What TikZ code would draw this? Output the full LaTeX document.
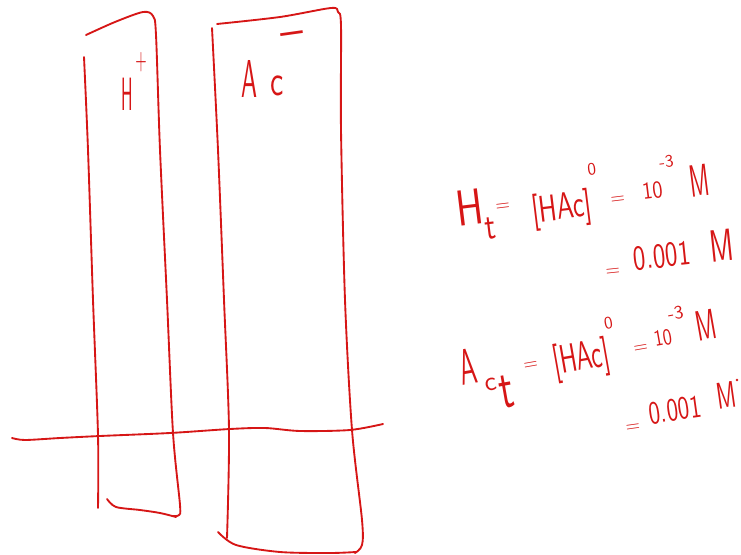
\documentclass[tikz,border=0pt]{standalone}
\usepackage{fontspec}
\newfontfamily\hand{lmsans10-regular}[Extension=.otf]
\begin{document}
\definecolor{ink}{RGB}{214,22,22}
\tikzset{
  stroke/.style={draw=ink, line width=1.4pt, line cap=round, line join=round},
  hw/.style={text=ink, inner sep=0pt, font=\hand},
}
\newcommand\fsz[1]{\fontsize{#1}{#1}\selectfont}
\newcommand\nx[2]{{\addfontfeatures{FakeStretch=#1}#2}}
\begin{tikzpicture}[x=0.75pt,y=-0.75pt]
\useasboundingbox (0,0) rectangle (741,555);
% left column (H+)
\draw[stroke] plot[smooth] coordinates {(84,57) (88,150) (93,300) (98,435) (98,508)};
\draw[stroke] plot[smooth] coordinates {(86,35) (115,22) (143,12) (153,16) (156,35) (160,150) (167,300) (173,433) (180,505) (179,515) (173,516)};
\draw[stroke] plot[smooth] coordinates {(107,499) (116,507) (140,510) (160,513) (176,517)};
% right column (Ac-)
\draw[stroke] plot[smooth] coordinates {(212,28) (218,150) (224,300) (229,430) (227,538)};
\draw[stroke] plot[smooth] coordinates {(217,24) (280,17) (331,8) (338,12) (341,26) (341,130) (345,300) (352,430) (362,520) (362,545) (355,553)};
\draw[stroke] plot[smooth] coordinates {(218,532) (236,545) (280,552) (330,553) (356,552)};
% horizontal line
\draw[stroke] plot[smooth] coordinates {(12,438) (25,440) (60,438) (100,436) (170,433) (230,429) (265,428) (300,431) (350,430) (383,424)};
% column labels
\node[hw, font=\hand\fsz{35}] (hlab) at (127,94) {\nx{0.35}{H}};
\node[hw, font=\hand\fsz{22}] (hplus) at (141,62) {\nx{0.5}{+}};
\node[hw, font=\hand\fsz{40}] (alab) at (249,79) {\nx{0.45}{A}};
\node[hw, font=\hand\fsz{32}] (clab) at (277,86) {\nx{0.7}{c}};
\node[hw, font=\hand\fsz{34}, rotate=8] (minus) at (293,39) {\textendash};
% line 1
\begin{scope}[every node/.style={hw, rotate=7}]
\node[anchor=base west] (l1h) at (458,227) {\fsz{38}\nx{0.75}{H}\fsz{28}\raisebox{-12pt}{\nx{0.8}{t}}};
\node[font=\hand\fsz{14}] (l1e1) at (503,207) {=};
\node[anchor=base west] (l1b) at (533,223) {\fsz{28}\nx{0.68}{[HAc]}\fsz{13}\raisebox{30pt}{0}};
\node[font=\hand\fsz{14}] (l1e2) at (618,200) {=};
\node[anchor=base west] (l1n) at (643,200) {\fsz{18}\nx{0.85}{10}\fsz{13}\raisebox{22pt}{-3}};
\node[font=\hand\fsz{34}] (l1m) at (699,181) {\nx{0.5}{M}};
\end{scope}
% line 2
\begin{scope}[every node/.style={hw, rotate=6}]
\node[font=\hand\fsz{14}] (l2e) at (613,272) {=};
\node[font=\hand\fsz{26}] (l2n) at (662,256) {\nx{0.72}{0.001}};
\node[font=\hand\fsz{34}] (l2m) at (722,246) {\nx{0.6}{M}};
\end{scope}
% line 3
\begin{scope}[every node/.style={hw, rotate=10}]
\node[anchor=base west] (l3a) at (462,386) {\fsz{38}\nx{0.5}{A}\hspace{4pt}\fsz{20}\raisebox{-7pt}{c}\hspace{1pt}\fsz{42}\raisebox{-22pt}{\nx{0.7}{t}}};
\node[font=\hand\fsz{14}] (l3e1) at (531,366) {=};
\node[anchor=base west] (l3b) at (555,375) {\fsz{30}\nx{0.6}{[HAc]}\fsz{13}\raisebox{27pt}{0}};
\node[font=\hand\fsz{14}] (l3e2) at (641,349) {=};
\node[anchor=base west] (l3n) at (655,347) {\fsz{17}\nx{0.8}{10}\fsz{14}\raisebox{18pt}{-3}};
\node[font=\hand\fsz{32}] (l3m) at (706,325) {\nx{0.55}{M}};
\end{scope}
% line 4
\begin{scope}[every node/.style={hw, rotate=8}]
\node[font=\hand\fsz{14}] (l4e) at (633,428) {=};
\node[font=\hand\fsz{24}] (l4n) at (675,410) {\nx{0.72}{0.001}};
\node[font=\hand\fsz{28}] (l4m) at (726,395) {\nx{0.6}{M}};
\end{scope}
\fill[ink] (737,380) circle (1.4);
\end{tikzpicture}
\end{document}
